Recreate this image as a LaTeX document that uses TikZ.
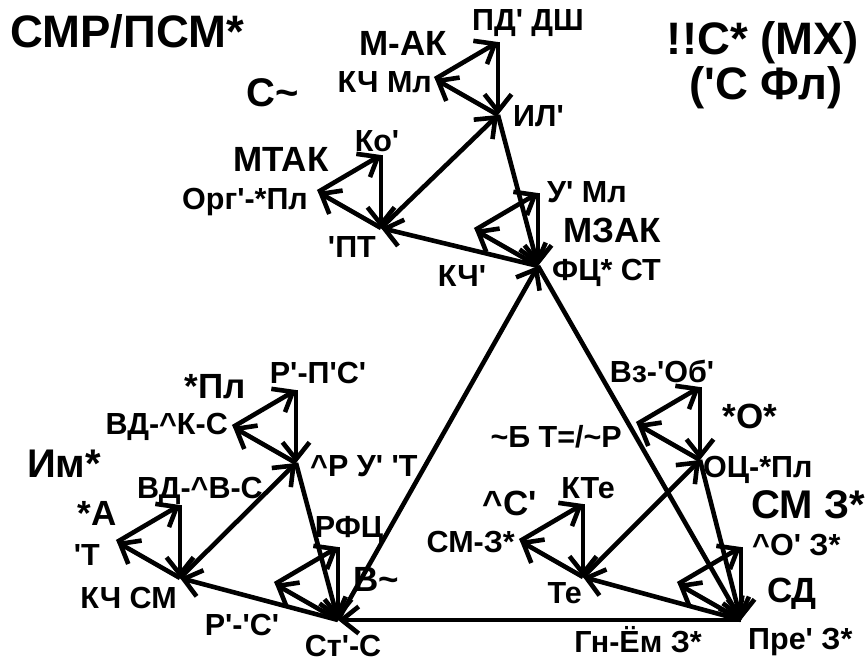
\documentclass[tikz,border=0pt]{standalone}
\usepackage{fontspec}
\newfontfamily\labfont{Liberation Sans}
\usetikzlibrary{arrows.meta,calc}
\begin{document}
\begin{tikzpicture}[x=1pt,y=-1pt,
  edge/.style={line width=4.6pt,-{Straight Barb[length=17pt,width=27pt]}},
  vlab/.style={font=\labfont\fontsize{30.5}{32}\selectfont\bfseries,inner sep=0pt},
  stitle/.style={font=\labfont\fontsize{35}{38}\selectfont\bfseries,inner sep=0pt},
  mtitle/.style={font=\labfont\fontsize{40}{42}\selectfont\bfseries,inner sep=0pt},
  btitle/.style={font=\labfont\fontsize{45.5}{47}\selectfont\bfseries,inner sep=0pt},
]
\useasboundingbox (0,0) rectangle (867,664);

% vertices of the three middle triangles (shared with the outer one)
\coordinate (F) at (538,266);
\coordinate (I) at (498,115);
\coordinate (Q) at (381,228);
\coordinate (S) at (338,620);
\coordinate (R) at (296,463);
\coordinate (K) at (180,578);
\coordinate (P) at (741,620);
\coordinate (O) at (700,460);
\coordinate (E) at (583,577);

% small triangles: top and left corner of each hub
\foreach \u in {I,Q,F,R,K,S,O,E,P}{
  \coordinate (\u-t) at ($(\u)+(0,-73)$);
  \coordinate (\u-l) at ($(\u)+(-63,-36)$);
}

% small cycles: hub -> left -> top -> hub
\foreach \u in {I,Q,F,R,K,S,O,E,P}{
  \draw[edge] (\u) -- (\u-l);
  \draw[edge] (\u-l) -- (\u-t);
  \draw[edge] (\u-t) -- (\u);
}
% middle cycles
\foreach \h/\t/\l in {F/I/Q,S/R/K,P/O/E}{
  \draw[edge] (\h) -- (\l);
  \draw[edge] (\l) -- (\t);
  \draw[edge] (\t) -- (\h);
}
% outer cycle
\draw[edge] (P) -- (S);
\draw[edge] (S) -- (F);
\draw[edge] (F) -- (P);

% headings
\node[btitle,anchor=base] (hA) at (127,47) {СМР/ПСМ*};
\node[btitle,anchor=base] (hB) at (763,54) {!!С* (МХ)};
\node[btitle,anchor=base] (hC) at (766,99) {('С Фл)};

\node[mtitle,anchor=base] (mA) at (273,106) {С\char`\~};
\node[mtitle,anchor=base] (mB) at (64,477) {Им*};
\node[mtitle,anchor=base] (mC) at (808,518) {СМ З*};

\node[stitle,anchor=base] (sA) at (403,55) {М-АК};
\node[stitle,anchor=base] (sB) at (281,171) {МТАК};
\node[stitle,anchor=base] (sC) at (612,242) {МЗАК};
\node[stitle,anchor=base] (sD) at (215,398) {*Пл};
\node[stitle,anchor=base] (sE) at (97,525) {*А};
\node[stitle,anchor=base] (sF) at (376,591) {В\char`\~};
\node[stitle,anchor=base] (sG) at (750,428) {*О*};
\node[stitle,anchor=base] (sH) at (510,515) {\char`\^С'};
\node[stitle,anchor=base] (sJ) at (792,602) {СД};

% corner labels, upper group
\node[vlab,anchor=base] (lIt) at (528,30) {ПД' ДШ};
\node[vlab,anchor=base east] (lIl) at (432,92) {КЧ Мл};
\node[vlab,anchor=base west] (lI) at (513,126) {ИЛ'};
\node[vlab,anchor=base] (lQt) at (377,151) {Ко'};
\node[vlab,anchor=base east] (lQl) at (308,209) {Орг'-*Пл};
\node[vlab,anchor=base east] (lQ) at (376,257) {'ПТ};
\node[vlab,anchor=base west] (lFt) at (547,202) {У' Мл};
\node[vlab,anchor=base] (lFl) at (462,286) {КЧ'};
\node[vlab,anchor=base west] (lF) at (552,280) {ФЦ* СТ};

% corner labels, lower left group
\node[vlab,anchor=base] (lRt) at (318,383) {Р'-П'С'};
\node[vlab,anchor=base east] (lRl) at (228,434) {ВД-\char`\^К-С};
\node[vlab,anchor=base west] (lR) at (310,476) {\char`\^Р У' 'Т};
\node[vlab,anchor=base] (lKt) at (200,498) {ВД-\char`\^В-С};
\node[vlab,anchor=base east] (lKl) at (100,565) {'Т};
\node[vlab,anchor=base east] (lK) at (177,608) {КЧ СМ};
\node[vlab,anchor=base] (lSt) at (349,537) {РФЦ};
\node[vlab,anchor=base] (lSl) at (242,635) {Р'-'С'};
\node[vlab,anchor=base] (lS) at (343,656) {Ст'-С};

% corner labels, lower right group
\node[vlab,anchor=base] (lOt) at (662,382) {Вз-'Об'};
\node[vlab,anchor=base east] (lOl) at (622,447) {\char`\~Б Т=/\char`\~Р};
\node[vlab,anchor=base west] (lO) at (703,477) {ОЦ-*Пл};
\node[vlab,anchor=base] (lEt) at (588,498) {КТе};
\node[vlab,anchor=base east] (lEl) at (515,552) {СМ-З*};
\node[vlab,anchor=base east] (lE) at (582,603) {Те};
\node[vlab,anchor=base west] (lPt) at (752,555) {\char`\^О' З*};
\node[vlab,anchor=base east] (lPl) at (702,652) {Гн-Ём З*};
\node[vlab,anchor=base west] (lP) at (748,649) {Пре' З*};
\end{tikzpicture}
\end{document}
